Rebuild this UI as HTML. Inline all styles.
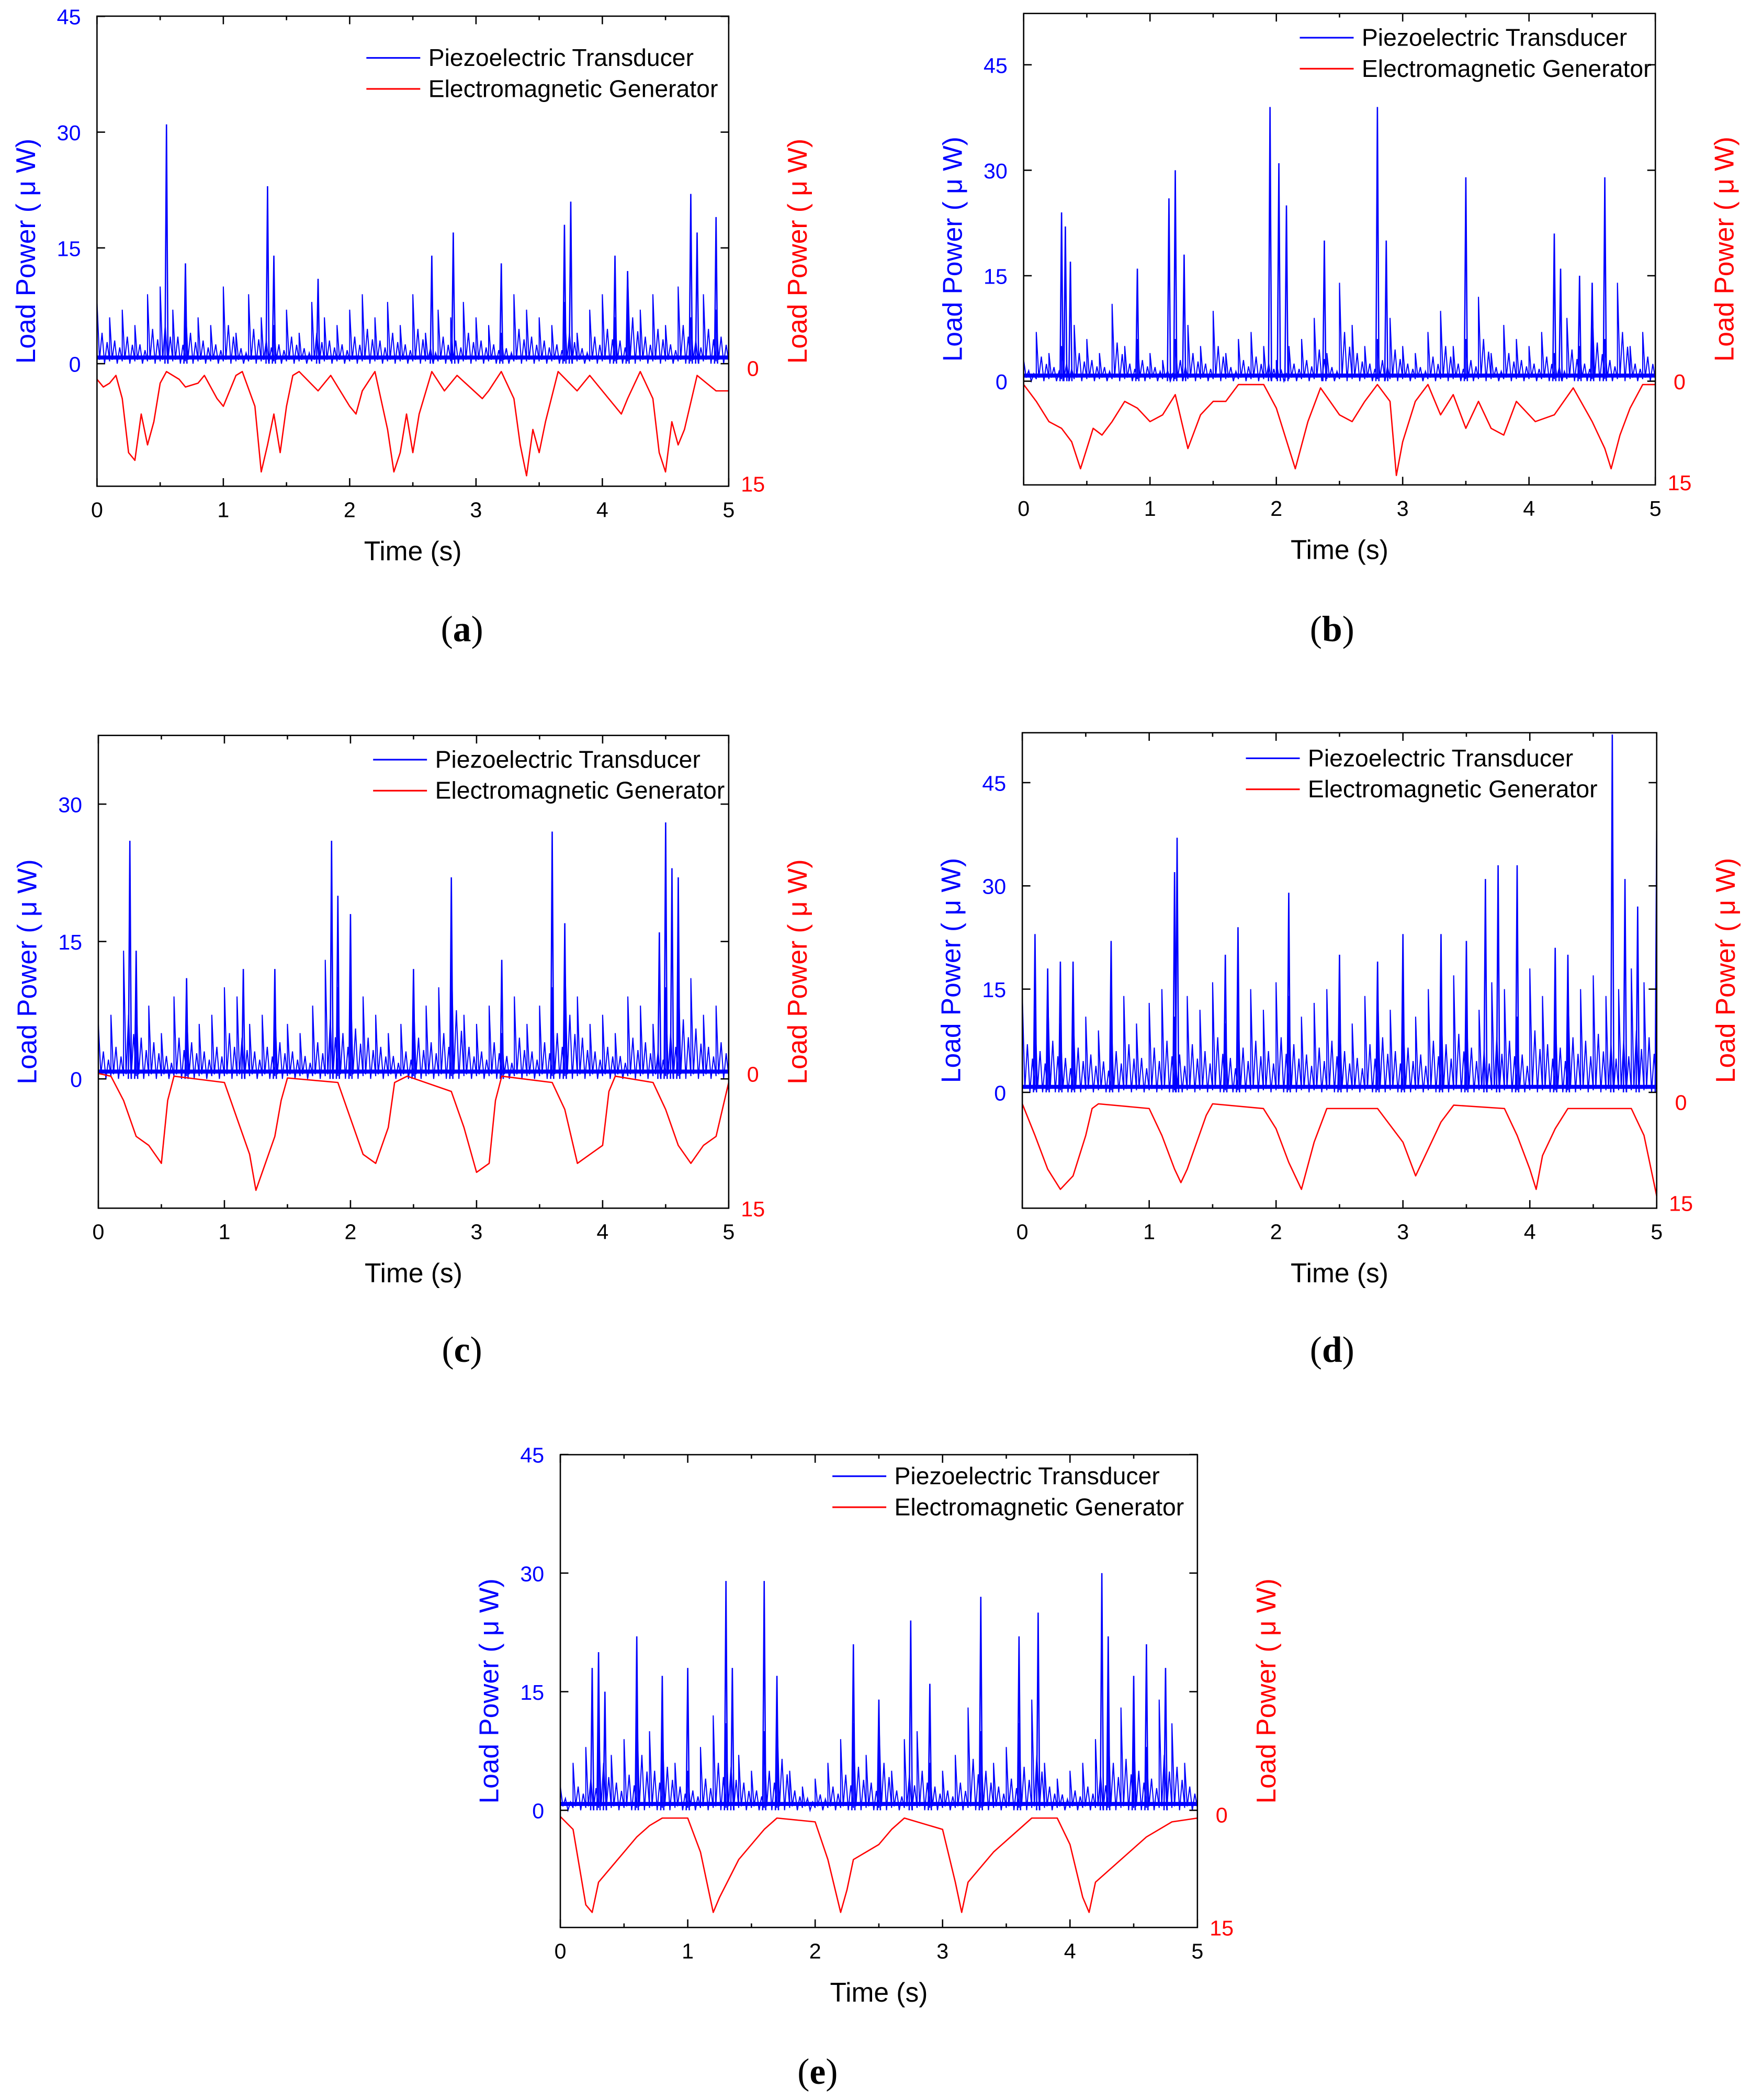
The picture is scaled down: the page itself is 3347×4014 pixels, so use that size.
<!DOCTYPE html>
<html>
<head>
<meta charset="utf-8">
<style>
html,body{margin:0;padding:0;background:#fff;}
svg{display:block;}
text{font-family:"Liberation Sans",sans-serif;}
</style>
</head>
<body>
<svg id="fig" width="3347" height="4014" viewBox="0 0 1300 1559.1" xmlns="http://www.w3.org/2000/svg"></svg>
<script>
// ---------- DATA ----------
const aSpikeT = [0.55,0.7,1.35,1.4,1.75,2.65,2.82,3.2,3.7,3.75,4.1,4.2,4.7,4.75,4.9];
const aSpikeV = [31,13,23,14,11,14,17,13,18,21,14,12,22,17,19];
const aBg = [8,6,7,5,9,10,7,8,6,5,10,4,9,6,5,7,4,8,6,5,7,9,6,8,5,9,4,7,6,8,6,5,4,9,7,6,5,8,4,7,9,6,12,7,9,5,10,6,9,7,9];
const aRedT = [0,0.05,0.1,0.15,0.2,0.25,0.3,0.35,0.4,0.45,0.5,0.55,0.65,0.7,0.8,0.85,0.95,1.0,1.05,1.1,1.15,1.25,1.3,1.35,1.4,1.45,1.5,1.55,1.6,1.75,1.85,2.0,2.05,2.1,2.2,2.3,2.35,2.4,2.45,2.5,2.55,2.65,2.75,2.85,3.05,3.1,3.2,3.3,3.35,3.4,3.45,3.5,3.55,3.65,3.8,3.9,4.1,4.15,4.2,4.3,4.4,4.45,4.5,4.55,4.6,4.65,4.75,4.9,5.0];
const aRedV = [1.5,2.5,2,1,4,11,12,6,10,7,2,0.5,1.5,2.5,2,1,4,5,3,1,0.5,5,13.5,10,6,11,5,1,0.5,3,1,5,6,3,0.5,8,13.5,11,6,11,6,0.5,3,1,4,3,0.5,4,10,14,8,11,7,0.5,3,1,5,6,4,0.5,4,11,13.5,7,10,8,1,3,3];

const bSpikeT = [0.3,0.33,0.37,0.9,1.15,1.2,1.27,1.95,2.02,2.08,2.38,2.8,2.87,3.5,4.2,4.25,4.4,4.5,4.6];
const bSpikeV = [24,22,17,16,26,30,18,39,31,25,20,39,20,29,21,16,15,14,29];
const bBg = [3,7,4,5,8,6,4,11,5,6,4,3,6,8,5,10,4,6,7,5,3,5,6,9,4,14,8,5,6,9,5,4,7,10,5,6,12,4,8,6,5,7,4,9,5,11,6,14,5,7,8];
const bRedT = [0,0.1,0.2,0.3,0.38,0.45,0.5,0.55,0.62,0.7,0.8,0.9,1.0,1.1,1.2,1.3,1.4,1.5,1.6,1.7,1.9,2.0,2.05,2.15,2.25,2.35,2.5,2.6,2.7,2.8,2.9,2.95,3.0,3.1,3.2,3.3,3.4,3.5,3.6,3.7,3.8,3.9,4.05,4.2,4.35,4.5,4.6,4.65,4.72,4.8,4.9,5.0];
const bRedV = [0.5,3,6,7,9,13,10,7,8,6,3,4,6,5,2,10,5,3,3,0.5,0.5,4,7,13,6,1,5,6,3,0.5,3,14,9,3,0.5,5,2,7,3,7,8,3,6,5,1,6,10,13,8,4,0.5,0.5];

const cSpikeT = [0.25,0.3,0.7,1.15,1.4,1.85,1.9,2.0,2.5,2.8,3.2,3.6,3.7,4.45,4.5,4.55,4.6];
const cSpikeV = [26,14,11,12,12,26,20,18,12,22,13,27,17,16,28,23,22];
const cBg = [6,7,14,9,8,5,9,8,6,7,10,9,6,7,8,6,5,8,13,10,11,9,7,5,6,9,8,10,15,7,6,8,5,9,6,8,10,14,9,6,7,5,9,8,6,10,13,11,7,8,10];
const cRedT = [0,0.1,0.2,0.3,0.4,0.5,0.55,0.6,1.0,1.1,1.2,1.25,1.3,1.4,1.45,1.5,1.9,2.0,2.1,2.2,2.3,2.35,2.45,2.8,2.9,3.0,3.1,3.15,3.2,3.6,3.7,3.8,3.9,4.0,4.05,4.1,4.4,4.5,4.6,4.7,4.8,4.9,4.95,5.0];
const cRedV = [0,0.3,3,7,8,10,3,0.3,1,5,9,13,11,7,3,0.5,1,5,9,10,6,1,0.3,2,6,11,10,3,0.3,1,4,10,9,8,2,0.3,1,4,8,10,8,7,4,1];

const dSpikeT = [0.1,0.2,0.3,0.4,0.7,1.2,1.22,1.6,1.7,2.1,2.5,2.8,3.0,3.3,3.5,3.65,3.75,3.9,4.2,4.3,4.65,4.75,4.85,5.0];
const dSpikeV = [23,18,19,19,22,32,37,20,24,29,20,19,23,23,22,31,33,33,21,20,52,31,27,38];
const dBg = [14,12,15,10,13,11,9,12,14,10,13,15,11,14,12,16,10,13,15,12,16,14,11,13,15,12,10,14,16,12,13,11,15,14,17,13,12,16,15,11,18,14,13,16,15,17,14,15,18,16,15];
const dRedT = [0,0.1,0.2,0.3,0.4,0.5,0.55,0.6,1.0,1.1,1.2,1.25,1.3,1.45,1.5,1.9,2.0,2.1,2.2,2.3,2.4,2.8,3.0,3.1,3.2,3.3,3.4,3.8,3.9,4.0,4.05,4.1,4.2,4.3,4.8,4.9,5.0];
const dRedV = [0.3,5,10,13,11,5,1,0.3,1,5,10,12,10,2,0.3,1,4,9,13,6,1,1,6,11,7,3,0.5,1,5,10,13,8,4,1,1,5,14];

const eSpikeT = [0.25,0.3,0.35,0.6,0.8,1.0,1.3,1.35,1.6,1.7,2.3,2.5,2.75,2.9,3.3,3.6,3.75,4.25,4.3,4.5,4.6,4.75];
const eSpikeV = [18,20,15,22,17,18,29,18,29,17,21,14,24,16,27,22,25,30,22,17,21,18];
const eBg = [3,6,8,12,7,9,14,10,11,6,5,8,12,11,7,5,10,13,5,3,4,6,9,11,7,12,5,9,10,6,5,7,13,10,6,8,11,14,6,4,5,6,9,12,13,10,8,14,11,6,4];
const eRedT = [0,0.1,0.2,0.25,0.3,0.4,0.5,0.6,0.7,0.8,1.0,1.1,1.2,1.25,1.4,1.5,1.6,1.7,2.0,2.1,2.2,2.25,2.3,2.5,2.6,2.7,3.0,3.1,3.15,3.2,3.4,3.6,3.7,3.9,4.0,4.1,4.15,4.2,4.4,4.6,4.8,5.0];
const eRedV = [0.3,2,12,13,9,7,5,3,1.5,0.5,0.5,5,13,11,6,4,2,0.5,1,6,13,10,6,4,2,0.5,2,9,13,9,5,2,0.5,0.5,4,11,13,9,6,3,1,0.5];

const blueTicks = [0,15,30,45];
const redTicks = [0,15];
const xTicks = [0,1,2,3,4,5];

// ---------- LAYOUT ----------
const panels = [
 {id:'a',L:72,R:541,T:12,B:361,b0:270,bs:5.73,r0:273,rs:5.73,bt:blueTicks,lx:272,ly:43,px:343,py:467,sT:aSpikeT,sV:aSpikeV,bg:aBg,rT:aRedT,rV:aRedV},
 {id:'b',L:760,R:1229,T:10,B:360,b0:283,bs:5.22,r0:283,rs:5.0,bt:blueTicks,lx:965,ly:28,px:989,py:467,sT:bSpikeT,sV:bSpikeV,bg:bBg,rT:bRedT,rV:bRedV},
 {id:'c',L:73,R:541,T:546,B:897,b0:801,bs:6.8,r0:797,rs:6.67,bt:[0,15,30],lx:277,ly:564,px:343,py:1002,sT:cSpikeT,sV:cSpikeV,bg:cBg,rT:cRedT,rV:cRedV},
 {id:'d',L:759,R:1230,T:544,B:897,b0:811,bs:5.11,r0:818,rs:5.0,bt:blueTicks,lx:925,ly:563,px:989,py:1002,sT:dSpikeT,sV:dSpikeV,bg:dBg,rT:dRedT,rV:dRedV},
 {id:'e',L:416,R:889,T:1080,B:1431,b0:1344,bs:5.87,r0:1347,rs:5.6,bt:blueTicks,lx:618,ly:1096,px:607,py:1538,sT:eSpikeT,sV:eSpikeV,bg:eBg,rT:eRedT,rV:eRedV}
];

const NS='http://www.w3.org/2000/svg';
const svg=document.getElementById('fig');
function mk(tag,attrs,parent){const e=document.createElementNS(NS,tag);for(const k in attrs)e.setAttribute(k,attrs[k]);(parent||svg).appendChild(e);return e;}

panels.forEach(p=>{
  const g=mk('g',{});
  
  
  const xs=t=>p.L+(p.R-p.L)*t/5;
  const yb=v=>p.b0-v*p.bs;
  const yr=v=>p.r0+v*p.rs;
  const defs=mk('defs',{},g);
  const cp=mk('clipPath',{id:'clip-'+p.id},defs);
  mk('rect',{x:p.L,y:p.T,width:p.R-p.L,height:p.B-p.T},cp);
  const dg=mk('g',{'clip-path':'url(#clip-'+p.id+')'},g);
  let d='M'+xs(0)+' '+yb(0);
  p.bg.forEach((v,i)=>{const t=i*0.1;d+=' L'+xs(t)+' '+yb(v)+' L'+xs(t+0.02)+' '+yb(0.5)+' L'+xs(t+0.04)+' '+yb(v*0.5)+' L'+xs(t+0.06)+' '+yb(0)+' L'+xs(t+0.08)+' '+yb(v*0.35)+' L'+xs(t+0.1)+' '+yb(0.3);});
  const bgp=mk('path',{d:d,fill:'none',stroke:'#0000ff','stroke-width':0.8},dg);
  
  
  mk('line',{x1:p.L,x2:p.R,y1:yb(0.8),y2:yb(0.8),stroke:'#0000ff','stroke-width':3},dg);
  p.sT.forEach((t,i)=>{
    const s=mk('path',{d:'M'+xs(t-0.012)+' '+yb(0)+' L'+xs(t)+' '+yb(p.sV[i])+' L'+xs(t+0.012)+' '+yb(0),fill:'none',stroke:'#0000ff','stroke-width':1},dg);
    
    
  });
  let rd='';
  p.rT.forEach((t,i)=>{rd+=(i?' L':'M')+xs(t)+' '+yr(p.rV[i]);});
  const rp=mk('path',{d:rd,fill:'none',stroke:'#ff0000','stroke-width':1.0,'stroke-linejoin':'round'},dg);
  
  
  const box=mk('rect',{x:p.L,y:p.T,width:p.R-p.L,height:p.B-p.T,fill:'none',stroke:'#000','stroke-width':1},g);
  
  
  xTicks.forEach(t=>{
    mk('line',{x1:xs(t),x2:xs(t),y1:p.B,y2:p.B-6,stroke:'#000'},g);
    mk('line',{x1:xs(t),x2:xs(t),y1:p.T,y2:p.T+6,stroke:'#000'},g);
    if(t<5){mk('line',{x1:xs(t+0.5),x2:xs(t+0.5),y1:p.B,y2:p.B-3,stroke:'#000'},g);mk('line',{x1:xs(t+0.5),x2:xs(t+0.5),y1:p.T,y2:p.T+3,stroke:'#000'},g);}
    const tx=mk('text',{x:xs(t),y:p.B+23,'font-size':16,'text-anchor':'middle',fill:'#000'},g);
    tx.textContent=t;
    
    
  });
  p.bt.forEach(v=>{
    mk('line',{x1:p.L,x2:p.L+6,y1:yb(v),y2:yb(v),stroke:'#000'},g);
    mk('line',{x1:p.R,x2:p.R-6,y1:yb(v),y2:yb(v),stroke:'#000'},g);
    const tx=mk('text',{x:p.L-12,y:yb(v)+6,'font-size':16,'text-anchor':'end',fill:'#0000ff'},g);
    tx.textContent=v;
    
    
  });
  redTicks.forEach(v=>{
    const tx=mk('text',{x:p.R+18,y:yr(v)+6,'font-size':16,'text-anchor':'middle',fill:'#ff0000'},g);
    tx.textContent=v;
    
    
  });
  const mid=(p.T+p.B)/2;
  const lt=mk('text',{x:0,y:0,'font-size':20,'text-anchor':'middle',fill:'#0000ff',transform:'translate('+(p.L-46)+','+mid+') rotate(-90)'},g);
  lt.textContent='Load Power ( \u03bc W)';
  
  
  const rt=mk('text',{x:0,y:0,'font-size':20,'text-anchor':'middle',fill:'#ff0000',transform:'translate('+(p.R+58)+','+mid+') rotate(-90)'},g);
  rt.textContent='Load Power ( \u03bc W)';
  
  
  const xt=mk('text',{x:(p.L+p.R)/2,y:p.B+55,'font-size':20,'text-anchor':'middle',fill:'#000'},g);
  xt.textContent='Time (s)';
  
  
  const lg=mk('g',{},g);
  
  
  mk('line',{x1:p.lx,x2:p.lx+40,y1:p.ly,y2:p.ly,stroke:'#0000ff','stroke-width':1.2},lg);
  const l1=mk('text',{x:p.lx+46,y:p.ly+6,'font-size':18,fill:'#000'},lg);
  l1.textContent='Piezoelectric Transducer';
  
  
  mk('line',{x1:p.lx,x2:p.lx+40,y1:p.ly+23,y2:p.ly+23,stroke:'#ff0000','stroke-width':1.2},lg);
  const l2=mk('text',{x:p.lx+46,y:p.ly+29,'font-size':18,fill:'#000'},lg);
  l2.textContent='Electromagnetic Generator';
  
  
  const pl=mk('text',{x:p.px,y:p.py+9,'font-size':27,'text-anchor':'middle',fill:'#000',style:'font-family:"Liberation Serif",serif'},svg);
  
  
  const t1=mk('tspan',{},pl);t1.textContent='(';
  const t2=mk('tspan',{'font-weight':'bold'},pl);t2.textContent=p.id;
  const t3=mk('tspan',{},pl);t3.textContent=')';
});
</script>
</body>
</html>
